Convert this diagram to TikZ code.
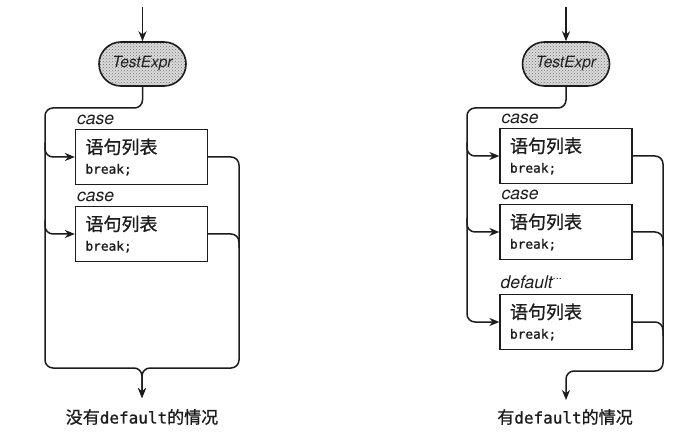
\documentclass[tikz,border=0pt]{standalone}
\usepackage{fontspec}
\setsansfont{TeX Gyre Heros}
\setmonofont{DejaVu Sans Mono}[FakeBold=1.2]
\newfontfamily\cjk{Noto Sans CJK SC}[FakeBold=0.8]
\usetikzlibrary{arrows.meta,positioning,calc,shapes.misc,patterns}
\definecolor{SWInk}{HTML}{1C1C1C}
\definecolor{SWDots}{HTML}{6E6E6E}
\definecolor{SWFill}{HTML}{DCDCDC}
\tikzset{
  wire/.style={SWInk,line width=1.5pt,rounded corners=8pt},
  flow/.style={wire,-{Stealth[length=10pt,width=8pt]}},
  testpill/.style={rounded rectangle,draw=SWInk,line width=1.6pt,
                   minimum width=87pt,minimum height=44pt,inner sep=0pt,
                   preaction={fill=SWFill},pattern=crosshatch dots,pattern color=SWDots,
                   font=\sffamily\itshape\fontsize{15.5}{18}\selectfont,text=SWInk},
  stmtbox/.style={draw=SWInk,line width=1.3pt,minimum width=132pt,minimum height=55pt,
                  text width=112pt,inner xsep=10pt,align=left,text=SWInk},
  casekw/.style={font=\sffamily\itshape\fontsize{17.5}{18}\selectfont,inner sep=0pt,text=SWInk},
  caption/.style={font=\fontsize{17}{20}\selectfont,text=SWInk,inner sep=0pt},
}
\newcommand{\stmtlines}{{\cjk\fontsize{18}{20}\selectfont 语句列表}\\[8pt]{\ttfamily\fontsize{12.8}{15}\selectfont break;}}

\begin{document}
\begin{tikzpicture}[x=1pt,y=-1pt]
  \useasboundingbox[fill=white] (0,0) rectangle (682,438);

  % left: no default
  \coordinate (iA) at (142.5,7);
  \node[testpill] (tA) at (142.5,64) {TestExpr};
  \coordinate (lA) at (45,108);
  \coordinate (rA) at (239,368);
  \coordinate (mA) at (142,368);
  \coordinate (oA) at (142,398);
  \foreach \n/\y in {b1A/157,b2A/234}{
    \node[stmtbox] (\n) at (141.5,\y) {\stmtlines};
    \node[casekw,above right=4pt and 2pt of \n.north west] (\n-kw) {case};
  }
  \draw[flow] (iA) -- (tA.north);
  \draw[flow] (tA.south) |- (lA) -- (lA |- mA) -- (mA) -- (oA);
  \draw[flow] (b1A.east) -| (rA) -- (mA) -- (oA);
  \foreach \n in {b1A,b2A}{
    \draw[flow] ($(lA |- \n.west)+(0,-14)$) |- (\n.west);
  }
  \draw[wire] (b2A.east) -| ($(rA |- b2A.east)+(0,14)$);
  \node[caption] (capA) at (142,417) {{\cjk 没有}{\ttfamily\fontsize{16}{20}\selectfont default}{\cjk 的情况}};

  % right: with default
  \coordinate (iB) at (566,7);
  \node[testpill] (tB) at (566,64) {TestExpr};
  \coordinate (lB) at (467,108);
  \coordinate (rB) at (663,371);
  \coordinate (mB) at (566,371);
  \coordinate (oB) at (566,400);
  \foreach \n/\y in {b1B/156,b2B/232}{
    \node[stmtbox] (\n) at (566,\y) {\stmtlines};
    \node[casekw,above right=4pt and 2pt of \n.north west] (\n-kw) {case};
  }
  \node[stmtbox] (b3B) at (566,322) {\stmtlines};
  \node[casekw,above right=5pt and 1pt of b3B.north west] (b3B-kw) {default\raisebox{9pt}{\fontsize{11}{11}\selectfont\upshape...}};
  \draw[flow] (iB) -- (tB.north);
  \draw[flow] (tB.south) |- (lB) |- (b3B.west);
  \foreach \n in {b1B,b2B}{
    \draw[flow] ($(lB |- \n.west)+(0,-14)$) |- (\n.west);
  }
  \draw[flow] (b1B.east) -| (rB) -- (mB) -- (oB);
  \foreach \n in {b2B,b3B}{
    \draw[wire] (\n.east) -| ($(rB |- \n.east)+(0,14)$);
  }
  \node[caption] (capB) at (565,417) {{\cjk 有}{\ttfamily\fontsize{16}{20}\selectfont default}{\cjk 的情况}};
\end{tikzpicture}
\end{document}
